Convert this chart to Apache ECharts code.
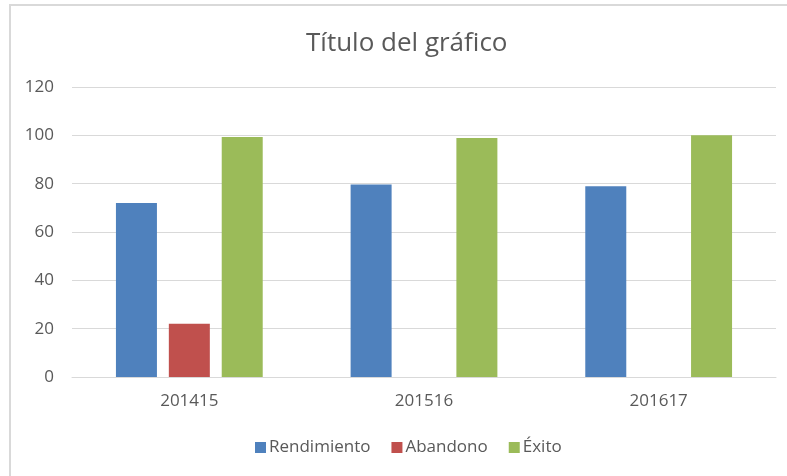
<!DOCTYPE html>
<html>
<head>
<meta charset="utf-8">
<script src="https://cdn.jsdelivr.net/npm/echarts@6/dist/echarts.min.js"></script>
<style>
  html, body { margin: 0; padding: 0; background: #fff; }
  .frame {
    position: absolute; left: 9px; top: 4px; width: 800px; height: 500px;
    border-top: 2px solid #d9d9d9; border-left: 2px solid #d9d9d9;
  }
  #chart { position: absolute; left: 0; top: 0; width: 787px; height: 476px; }
</style>
</head>
<body>
<div class="frame"></div>
<div id="chart"></div>
<script>
// datos
const categories = ['201415', '201516', '201617']
const rendimiento = [72, 79.7, 78.9]
const abandono = [22, 0, 0]
const exito = [99.3, 98.9, 100]

const textColor = '#595959'
const font = 'Open Sans'

const chart = echarts.init(document.getElementById('chart'))
chart.setOption({
  backgroundColor: 'transparent',
  animation: false,
  title: {
    text: 'Título del gráfico',
    left: 301,
    top: 26,
    textStyle: { fontFamily: font, fontSize: 26, fontWeight: 'normal', color: textColor }
  },
  legend: {
    bottom: 15,
    left: 250,
    icon: 'rect',
    itemWidth: 11,
    itemHeight: 11,
    itemGap: 21,
    textStyle: { fontFamily: font, fontSize: 17, color: textColor, padding: [0, 0, 0, -2] },
    data: ['Rendimiento', 'Abandono', 'Éxito']
  },
  grid: { left: 72, right: 11, top: 87, bottom: 99 },
  xAxis: {
    type: 'category',
    data: categories,
    axisLine: { lineStyle: { color: '#d9d9d9', width: 1 } },
    axisTick: { show: false },
    axisLabel: { fontFamily: font, fontSize: 17, color: textColor, margin: 16 }
  },
  yAxis: {
    type: 'value',
    min: 0,
    max: 120,
    interval: 20,
    axisLine: { show: false },
    axisTick: { show: false },
    splitLine: { lineStyle: { color: '#d9d9d9', width: 1 } },
    axisLabel: { fontFamily: font, fontSize: 17, color: textColor, margin: 18 }
  },
  series: [
    { name: 'Rendimiento', type: 'bar', data: rendimiento, barWidth: 41, barGap: '29%',
      itemStyle: { color: '#4f81bd' } },
    { name: 'Abandono', type: 'bar', data: abandono, barWidth: 41, barGap: '29%',
      itemStyle: { color: '#c0504d' } },
    { name: 'Éxito', type: 'bar', data: exito, barWidth: 41, barGap: '29%',
      itemStyle: { color: '#9bbb59' } }
  ]
})
</script>
</body>
</html>
